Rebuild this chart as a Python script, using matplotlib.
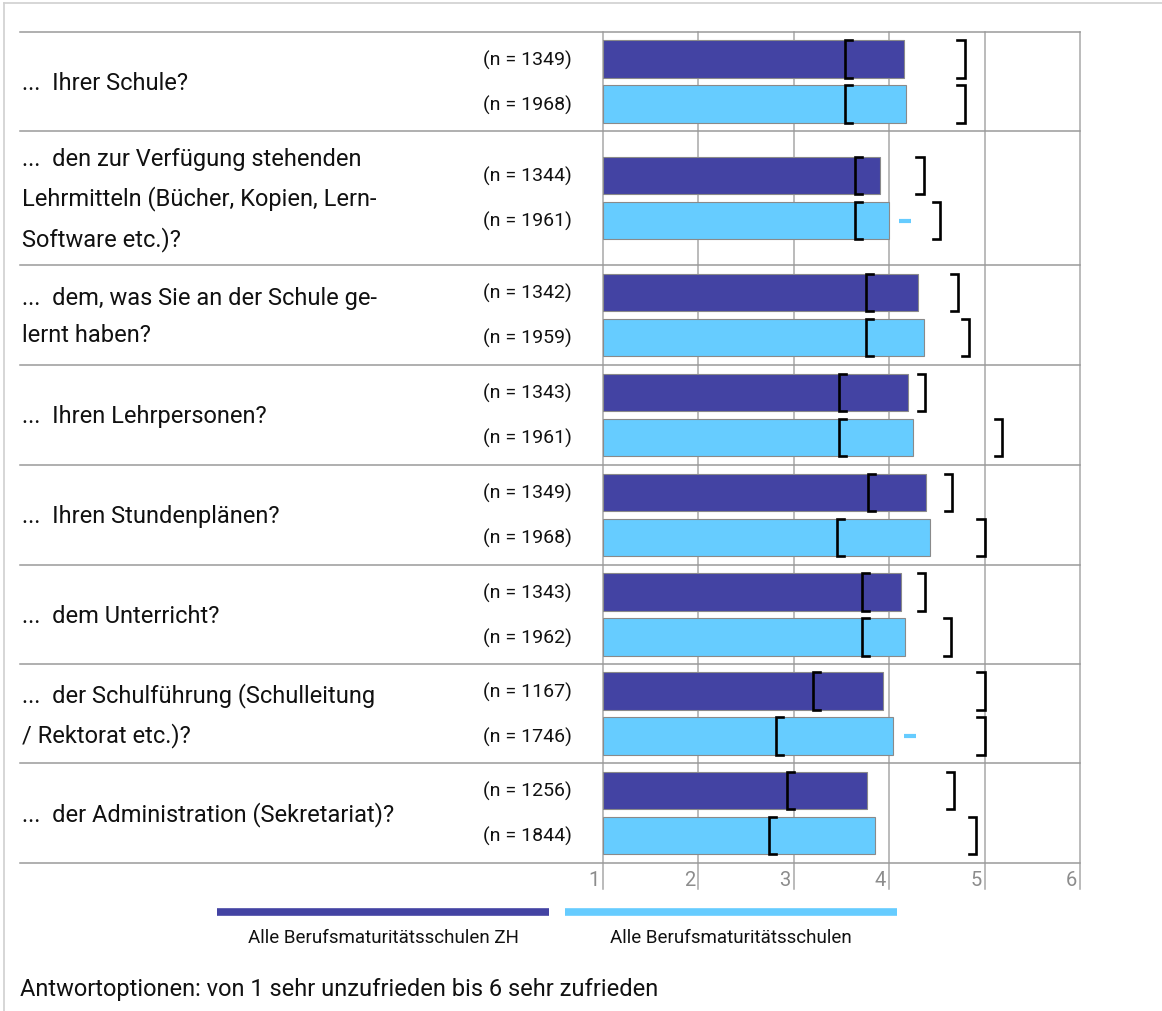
import numpy as np
import matplotlib
matplotlib.use("Agg")
import matplotlib.pyplot as plt
from matplotlib import transforms
from matplotlib.lines import Line2D

plt.rcParams["font.family"] = ["Roboto", "DejaVu Sans"]

# --- data -----------------------------------------------------------------
items = [
    "...  Ihrer Schule?",
    "...  den zur Verfügung stehenden\nLehrmitteln (Bücher, Kopien, Lern-\nSoftware etc.)?",
    "...  dem, was Sie an der Schule ge-\nlernt haben?",
    "...  Ihren Lehrpersonen?",
    "...  Ihren Stundenplänen?",
    "...  dem Unterricht?",
    "...  der Schulführung (Schulleitung\n/ Rektorat etc.)?",
    "...  der Administration (Sekretariat)?",
]
series_names = ["Alle Berufsmaturitätsschulen ZH", "Alle Berufsmaturitätsschulen"]

n_zh = [1349, 1344, 1342, 1343, 1349, 1343, 1167, 1256]
n_all = [1968, 1961, 1959, 1961, 1968, 1962, 1746, 1844]

mean_zh = [4.15, 3.90, 4.30, 4.20, 4.39, 4.12, 3.94, 3.77]
mean_all = [4.18, 4.00, 4.36, 4.25, 4.43, 4.17, 4.04, 3.85]

low_zh = [3.54, 3.64, 3.76, 3.47, 3.78, 3.71, 3.20, 2.93]
high_zh = [4.79, 4.36, 4.72, 4.38, 4.66, 4.38, 5.00, 4.68]
low_all = [3.54, 3.64, 3.76, 3.47, 3.45, 3.71, 2.81, 2.74]
high_all = [4.79, 4.53, 4.84, 5.18, 5.00, 4.65, 5.00, 4.91]

# small extra marks next to some light bars
mark_all = [np.nan, 4.17, np.nan, np.nan, np.nan, np.nan, 4.22, np.nan]

scale_ticks = [1, 2, 3, 4, 5, 6]
footer = "Antwortoptionen: von 1 sehr unzufrieden bis 6 sehr zufrieden"

# --- style ----------------------------------------------------------------
DARK = "#4343A3"
LIGHT = "#66CCFF"
GRID = "#A8A8A8"
SEP = "#9A9A9A"
TXT = "#111111"
row_h = np.array([99, 134, 100, 100, 100, 99, 99, 100], dtype=float)
bar_h = 37.5
off = 22.5
serif = 0.075

W, H = 1162, 1012
fig = plt.figure(figsize=(W / 100, H / 100), dpi=100)
fig.patch.set_facecolor("white")

ax_l, ax_r, ax_t, ax_b = 603, 1080, 33, 864
ax = fig.add_axes([ax_l / W, 1 - ax_b / H, (ax_r - ax_l) / W, (ax_b - ax_t) / H])
ax.set_xlim(1, 6)
ax.set_ylim(row_h.sum(), 0)
ax.axis("off")

edges = np.concatenate([[0], np.cumsum(row_h)])
centers = (edges[:-1] + edges[1:]) / 2
y_zh = centers - off
y_all = centers + off

# vertical grid, extending a bit under the plot for the tick labels
for t in scale_ticks:
    ax.axvline(t, ymin=-0.031, ymax=1, color=GRID, lw=1.1, clip_on=False, zorder=1)

# row separators, running under the item labels
for e in edges:
    ax.axhline(e, xmin=-(ax_l - 20) / (ax_r - ax_l), xmax=1, color=SEP, lw=1.1,
               clip_on=False, zorder=1)

ax.barh(y_zh, np.array(mean_zh) - 1, left=1, height=bar_h, color=DARK,
        edgecolor="#8A8A8A", linewidth=0.8, zorder=3)
ax.barh(y_all, np.array(mean_all) - 1, left=1, height=bar_h, color=LIGHT,
        edgecolor="#8A8A8A", linewidth=0.8, zorder=3)


def brackets(ys, lows, highs):
    for y, lo, hi in zip(ys, lows, highs):
        top, bot = y - bar_h / 2, y + bar_h / 2
        ax.plot([lo + serif, lo, lo, lo + serif], [top, top, bot, bot],
                color="black", lw=1.9, solid_joinstyle="miter", zorder=4)
        ax.plot([hi - serif, hi, hi, hi - serif], [top, top, bot, bot],
                color="black", lw=1.9, solid_joinstyle="miter", zorder=4)


brackets(y_zh, low_zh, high_zh)
brackets(y_all, low_all, high_all)

ax.plot(mark_all, y_all, ls="none", marker="_", ms=9, mew=3, color=LIGHT, zorder=4)

# tick labels sit just left of each grid line
tick_tr = transforms.blended_transform_factory(ax.transData, ax.transAxes)
tick_tr = tick_tr + transforms.ScaledTranslation(-3 / 100, 0, fig.dpi_scale_trans)
for t in scale_ticks:
    ax.text(t, -0.008, str(t), transform=tick_tr, ha="right", va="top",
            fontsize=14.5, color="#8C8C8C")

# item labels and sample sizes
lab_tr = transforms.blended_transform_factory(fig.transFigure, ax.transData)
for c, txt in zip(centers, items):
    ax.text(22 / W, c + 1, txt, transform=lab_tr, ha="left", va="center",
            fontsize=17, color=TXT, linespacing=1.8)
for y, n in zip(y_zh, n_zh):
    ax.text(572 / W, y, f"(n = {n})", transform=lab_tr, ha="right", va="center",
            fontsize=14, color=TXT)
for y, n in zip(y_all, n_all):
    ax.text(572 / W, y, f"(n = {n})", transform=lab_tr, ha="right", va="center",
            fontsize=14, color=TXT)

# legend drawn as two thick strokes with captions below
for (x0, x1), col, name in zip([(217, 549), (565, 897)], [DARK, LIGHT], series_names):
    fig.add_artist(Line2D([x0 / W, x1 / W], [1 - 913 / H] * 2, color=col, lw=5.5,
                          solid_capstyle="butt"))
    fig.text((x0 + x1) / 2 / W, 1 - 938 / H, name, ha="center", va="center",
             fontsize=13.5, color=TXT)

fig.text(20 / W, 1 - 990 / H, footer, ha="left", va="center", fontsize=17,
         color=TXT)

# thin frame on the top and left edge
fig.add_artist(Line2D([4 / W, 1], [1 - 4 / H] * 2, color="#D0D0D0", lw=1.2))
fig.add_artist(Line2D([4 / W] * 2, [0, 1 - 4 / H], color="#D0D0D0", lw=1.2))

fig.savefig("out.png", dpi=100)
